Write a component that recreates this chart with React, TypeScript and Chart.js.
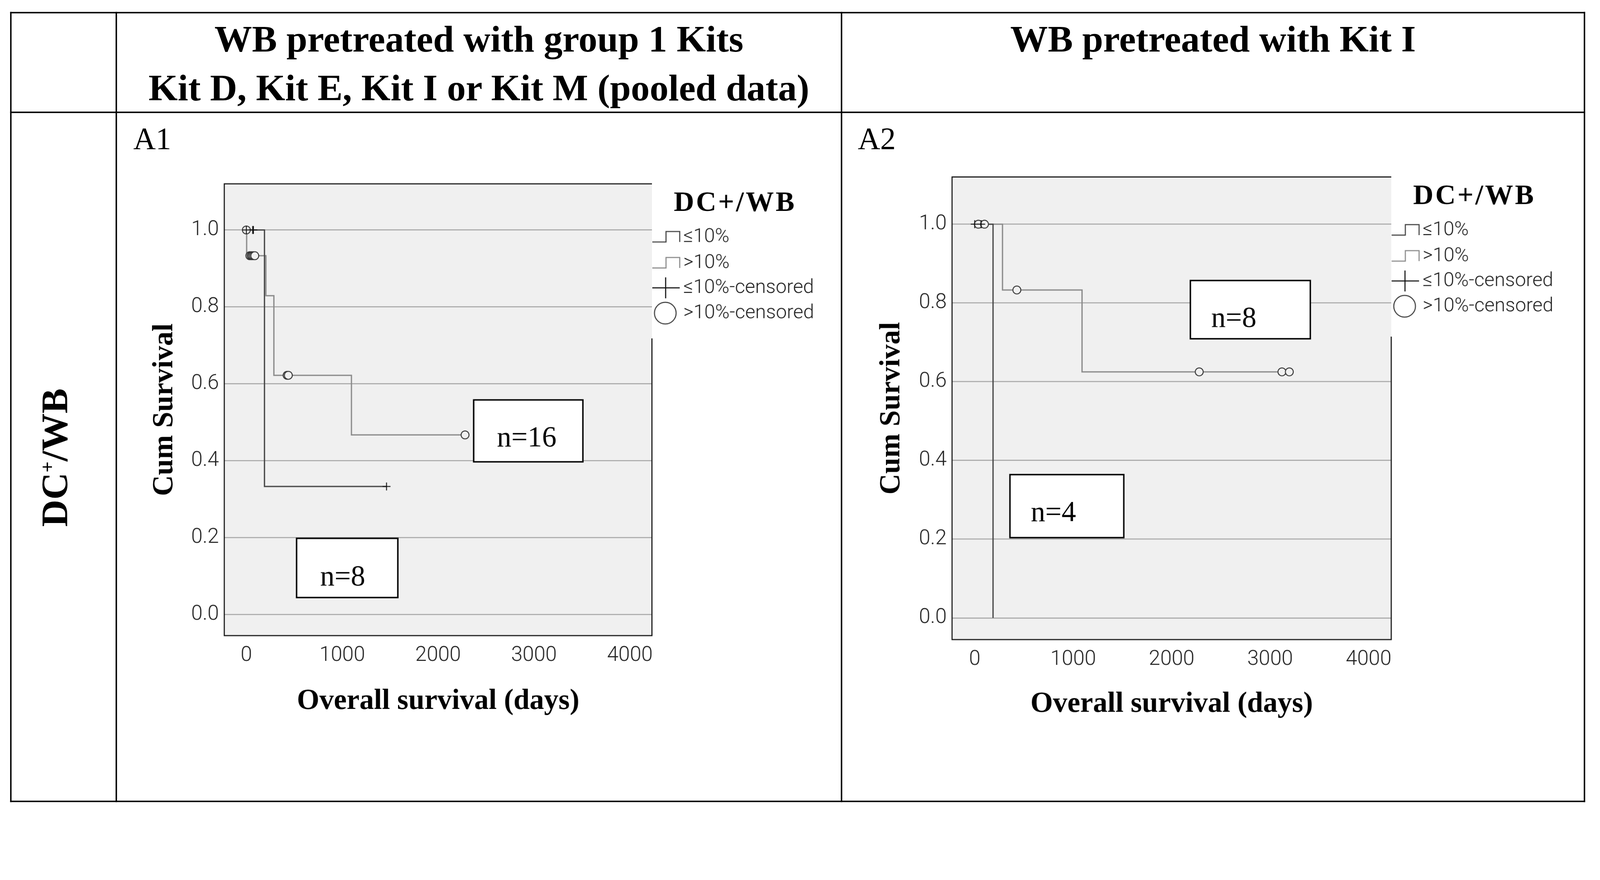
import React, { useEffect, useRef } from 'react';
import { Chart, registerables } from 'chart.js';

Chart.register(...registerables);

// ---------------- data ----------------
const xTickValues = [0, 1000, 2000, 3000, 4000];
const yTickValues = [0, 0.2, 0.4, 0.6, 0.8, 1.0];
const legendTitle = 'DC+/WB';
const legendLabels = ['≤10%', '>10%', '≤10%-censored', '>10%-censored'];
const header1Lines = ['WB pretreated with group 1 Kits', 'Kit D, Kit E, Kit I or Kit M (pooled data)'];
const header2Lines = ['WB pretreated with Kit I'];
const panelLabels = ['A1', 'A2'];
const axisTitleX = 'Overall survival (days)';
const axisTitleY = 'Cum Survival';

// A1: pooled group 1 kits
const a1LowTimes = [0, 189, 1462];
const a1LowSurv = [1.0, 0.333, 0.333];
const a1HighTimes = [0, 3, 204, 287, 1096, 2281];
const a1HighSurv = [1.0, 0.933, 0.829, 0.622, 0.467, 0.467];
const a1LowCensTimes = [0, 66, 74, 1462];
const a1LowCensSurv = [1.0, 1.0, 1.0, 0.333];
const a1HighCensTimes = [0, 36, 50, 62, 75, 88, 425, 438, 2281];
const a1HighCensSurv = [1.0, 0.933, 0.933, 0.933, 0.933, 0.933, 0.622, 0.622, 0.467];
const a1Counts = ['n=16', 'n=8'];

// A2: Kit I
const a2LowTimes = [0, 186];
const a2LowSurv = [1.0, 0.0];
const a2HighTimes = [0, 282, 1090, 3195];
const a2HighSurv = [1.0, 0.833, 0.625, 0.625];
const a2LowCensTimes = [0, 66];
const a2LowCensSurv = [1.0, 1.0];
const a2HighCensTimes = [37, 99, 428, 2280, 3120, 3195];
const a2HighCensSurv = [1.0, 1.0, 0.833, 0.625, 0.625, 0.625];
const a2Counts = ['n=8', 'n=4'];

// ---------------- styling / layout ----------------
const DESIGN_W = 4430;
const DESIGN_H = 2253;
const SERIF = '"Liberation Serif", "Times New Roman", serif';
const SANS = 'Roboto, "Liberation Sans", Arial, sans-serif';
const SANS_WEIGHT = 300;
const DARK_LINE = '#444444';
const GRAY_LINE = '#8a8a8a';
const PLOT_BG = '#f0f0f0';
const TEXT_GRAY = '#222222';

type Box = { x0: number; x1: number; y0: number; y1: number; tx: number; ty: number; text: string };
type Geom = {
  left: number; top: number; width: number; height: number;
  plotL: number; plotR: number; plotT: number; plotB: number;
  yTitlePad: number; xTitlePad: number; legendH: number;
};

const pts = (xs: number[], ys: number[]) => xs.map((x, i) => ({ x, y: ys[i] }));

function makeDecorPlugin(boxes: Box[], legendH: number) {
  return {
    id: 'kmDecor',
    beforeDraw(chart: any) {
      const { ctx, chartArea: a } = chart;
      ctx.save();
      ctx.fillStyle = PLOT_BG;
      ctx.fillRect(a.left, a.top, a.right - a.left, a.bottom - a.top);
      ctx.restore();
    },
    afterDatasetsDraw(chart: any) {
      const { ctx, chartArea: a, scales } = chart;
      const xs = scales.x;
      const ys = scales.y;
      ctx.save();
      // annotation boxes
      for (const b of boxes) {
        const px0 = xs.getPixelForValue(b.x0);
        const px1 = xs.getPixelForValue(b.x1);
        const py0 = ys.getPixelForValue(b.y1);
        const py1 = ys.getPixelForValue(b.y0);
        ctx.fillStyle = '#ffffff';
        ctx.fillRect(px0, py0, px1 - px0, py1 - py0);
        ctx.strokeStyle = '#000';
        ctx.lineWidth = 4;
        ctx.strokeRect(px0, py0, px1 - px0, py1 - py0);
        ctx.fillStyle = '#000';
        ctx.font = `80px ${SERIF}`;
        ctx.textAlign = 'left';
        ctx.textBaseline = 'alphabetic';
        ctx.fillText(b.text, xs.getPixelForValue(b.tx), ys.getPixelForValue(b.ty));
      }
      // plot frame
      ctx.strokeStyle = '#111';
      ctx.lineWidth = 3;
      ctx.beginPath();
      ctx.moveTo(a.right, a.top);
      ctx.lineTo(a.left, a.top);
      ctx.lineTo(a.left, a.bottom);
      ctx.lineTo(a.right, a.bottom);
      ctx.lineTo(a.right, a.top + legendH);
      ctx.stroke();

      // legend
      const R = a.right;
      const T = a.top;
      ctx.fillStyle = '#000';
      ctx.font = `bold 78px ${SERIF}`;
      (ctx as any).letterSpacing = '5px';
      ctx.textAlign = 'center';
      ctx.textBaseline = 'alphabetic';
      ctx.fillText(legendTitle, R + 230, T + 75);
      (ctx as any).letterSpacing = '0px';

      const rows = [147, 219, 288, 358].map((d) => T + d);
      ctx.font = `${SANS_WEIGHT} 54px ${SANS}`;
      ctx.fillStyle = TEXT_GRAY;
      ctx.textAlign = 'left';
      ctx.textBaseline = 'middle';
      legendLabels.forEach((lab, i) => ctx.fillText(lab, R + 87, rows[i]));

      // step symbols
      [DARK_LINE, GRAY_LINE].forEach((col, i) => {
        const cy = rows[i];
        ctx.strokeStyle = col;
        ctx.lineWidth = 3;
        ctx.beginPath();
        ctx.moveTo(R + 1, cy + 14);
        ctx.lineTo(R + 39, cy + 14);
        ctx.lineTo(R + 39, cy - 15);
        ctx.lineTo(R + 77, cy - 15);
        ctx.lineTo(R + 77, cy + 14);
        ctx.stroke();
      });
      // plus symbol
      ctx.strokeStyle = '#111';
      ctx.lineWidth = 3;
      ctx.beginPath();
      ctx.moveTo(R + 1, rows[2]);
      ctx.lineTo(R + 77, rows[2]);
      ctx.moveTo(R + 38, rows[2] - 29);
      ctx.lineTo(R + 38, rows[2] + 29);
      ctx.stroke();
      // circle symbol
      ctx.strokeStyle = '#444';
      ctx.beginPath();
      ctx.arc(R + 37, rows[3], 30, 0, Math.PI * 2);
      ctx.stroke();
      ctx.restore();
    },
  };
}

type PanelProps = {
  geom: Geom;
  lowT: number[]; lowS: number[]; highT: number[]; highS: number[];
  lowCT: number[]; lowCS: number[]; highCT: number[]; highCS: number[];
  boxes: Box[];
};

function KMPanel(p: PanelProps) {
  const ref = useRef<HTMLCanvasElement | null>(null);
  useEffect(() => {
    const g = p.geom;
    const canvas = ref.current!;
    const tickFont = { family: SANS, size: 57, weight: SANS_WEIGHT as any };
    const titleFont = { family: SERIF, size: 80, weight: 'bold' as const };
    const chart = new Chart(canvas, {
      type: 'line',
      data: {
        datasets: [
          {
            label: '≤10%-censored', type: 'scatter', data: pts(p.lowCT, p.lowCS), showLine: false,
            pointStyle: 'cross', pointRadius: 11, pointHoverRadius: 11, pointBorderWidth: 2.5,
            pointBorderColor: '#111', pointBackgroundColor: '#111', order: 0,
          } as any,
          {
            label: '>10%-censored', type: 'scatter', data: pts(p.highCT, p.highCS), showLine: false,
            pointStyle: 'circle', pointRadius: 11, pointHoverRadius: 11, pointBorderWidth: 2.5,
            pointBorderColor: '#333', pointBackgroundColor: PLOT_BG, order: 1,
          } as any,
          {
            label: '≤10%', data: pts(p.lowT, p.lowS), stepped: 'before', borderColor: DARK_LINE,
            borderWidth: 3.5, pointRadius: 0, fill: false, order: 2,
          },
          {
            label: '>10%', data: pts(p.highT, p.highS), stepped: 'before', borderColor: GRAY_LINE,
            borderWidth: 3.5, pointRadius: 0, fill: false, order: 3,
          },
        ],
      },
      options: {
        responsive: false,
        animation: false,
        devicePixelRatio: 1,
        events: [],
        layout: {
          padding: {
            left: 0,
            top: g.plotT - g.top,
            right: g.left + g.width - g.plotR,
            bottom: g.top + g.height - (g.plotB + 260),
          },
        },
        plugins: { legend: { display: false }, tooltip: { enabled: false }, title: { display: false } },
        scales: {
          x: {
            type: 'linear', min: -230, max: 4230,
            afterBuildTicks: (s: any) => { s.ticks = xTickValues.map((v) => ({ value: v })); },
            afterFit: (s: any) => { s.height = 260; },
            grid: { display: false, drawTicks: false },
            border: { display: false },
            ticks: { padding: 22, font: tickFont, color: TEXT_GRAY, autoSkip: false, maxRotation: 0, callback: (v: any) => String(v) },
            title: { display: true, text: axisTitleX, font: titleFont, color: '#000', padding: { top: 0, bottom: g.xTitlePad } },
          },
          y: {
            type: 'linear', min: -0.055, max: 1.12,
            afterBuildTicks: (s: any) => { s.ticks = yTickValues.map((v) => ({ value: v })); },
            afterFit: (s: any) => { s.width = g.plotL - g.left; },
            grid: { color: '#ababab', lineWidth: 3, drawTicks: false },
            border: { display: false },
            ticks: { padding: 15, font: tickFont, color: TEXT_GRAY, autoSkip: false, callback: (v: any) => Number(v).toFixed(1) },
            title: { display: true, text: axisTitleY, font: titleFont, color: '#000', padding: { top: g.yTitlePad, bottom: 0 } },
          },
        },
      },
      plugins: [makeDecorPlugin(p.boxes, p.geom.legendH)],
    });
    return () => chart.destroy();
  }, []);
  const g = p.geom;
  return (
    <canvas
      ref={ref}
      width={g.width}
      height={g.height}
      style={{ position: 'absolute', left: g.left, top: g.top, width: g.width, height: g.height, display: 'block' }}
    />
  );
}

const geomA1: Geom = {
  left: 330, top: 330, width: 1990, height: 1880,
  plotL: 621, plotR: 1805, plotT: 509, plotB: 1760,
  yTitlePad: 78, xTitlePad: 30, legendH: 428,
};
const geomA2: Geom = {
  left: 2336, top: 330, width: 2044, height: 1880,
  plotL: 2636, plotR: 3852, plotT: 490, plotB: 1771,
  yTitlePad: 85, xTitlePad: 33, legendH: 442,
};

const boxesA1: Box[] = [
  { x0: 2371, x1: 3510, y0: 0.397, y1: 0.558, tx: 2613, ty: 0.437, text: a1Counts[0] },
  { x0: 524, x1: 1580, y0: 0.044, y1: 0.198, tx: 769, ty: 0.076, text: a1Counts[1] },
];
const boxesA2: Box[] = [
  { x0: 2190, x1: 3408, y0: 0.709, y1: 0.857, tx: 2402, ty: 0.739, text: a2Counts[0] },
  { x0: 358, x1: 1514, y0: 0.204, y1: 0.364, tx: 570, ty: 0.246, text: a2Counts[1] },
];

const line = (left: number, top: number, width: number, height: number) => (
  <div style={{ position: 'absolute', left, top, width, height, background: '#000' }} />
);

export default function App() {
  const k = typeof window !== 'undefined' && window.innerWidth ? window.innerWidth / DESIGN_W : 1;
  useEffect(() => {
    document.documentElement.style.overflow = 'hidden';
    document.body.style.overflow = 'hidden';
  }, []);
  const headerStyle: React.CSSProperties = {
    position: 'absolute', top: 40, fontFamily: SERIF, fontWeight: 'bold', fontSize: 104,
    lineHeight: '135px', textAlign: 'center', color: '#000', whiteSpace: 'nowrap',
  };
  const labelStyle: React.CSSProperties = {
    position: 'absolute', top: 341, fontFamily: SERIF, fontSize: 86, lineHeight: '86px', color: '#000',
  };
  return (
    <div
      style={{
        position: 'absolute', left: 0, top: 0, width: DESIGN_W, height: DESIGN_H, background: '#fff',
        overflow: 'hidden', transform: `scale(${k})`, transformOrigin: '0 0',
      }}
    >
      {line(28, 33, 4361, 4)}
      {line(28, 309, 4361, 4)}
      {line(28, 2217, 4361, 4)}
      {line(28, 33, 4, 2188)}
      {line(320, 33, 4, 2188)}
      {line(2328, 33, 4, 2188)}
      {line(4385, 33, 4, 2188)}

      <div style={{ ...headerStyle, left: 324, width: 2004 }}>
        {header1Lines.map((t) => <div key={t}>{t}</div>)}
      </div>
      <div style={{ ...headerStyle, left: 2332, width: 2053 }}>
        {header2Lines.map((t) => <div key={t}>{t}</div>)}
      </div>

      <div
        style={{
          position: 'absolute', left: 150, top: 1267, width: 700, height: 135,
          transform: 'translate(-50%, -50%) rotate(-90deg)', fontFamily: SERIF, fontWeight: 'bold',
          fontSize: 104, lineHeight: '135px', textAlign: 'center', color: '#000', whiteSpace: 'nowrap',
        }}
      >
        DC<span style={{ fontSize: 54, position: 'relative', top: -36 }}>+</span>/WB
      </div>

      <div style={{ ...labelStyle, left: 369 }}>{panelLabels[0]}</div>
      <div style={{ ...labelStyle, left: 2375 }}>{panelLabels[1]}</div>

      <KMPanel
        geom={geomA1}
        lowT={a1LowTimes} lowS={a1LowSurv} highT={a1HighTimes} highS={a1HighSurv}
        lowCT={a1LowCensTimes} lowCS={a1LowCensSurv} highCT={a1HighCensTimes} highCS={a1HighCensSurv}
        boxes={boxesA1}
      />
      <KMPanel
        geom={geomA2}
        lowT={a2LowTimes} lowS={a2LowSurv} highT={a2HighTimes} highS={a2HighSurv}
        lowCT={a2LowCensTimes} lowCS={a2LowCensSurv} highCT={a2HighCensTimes} highCS={a2HighCensSurv}
        boxes={boxesA2}
      />
    </div>
  );
}
